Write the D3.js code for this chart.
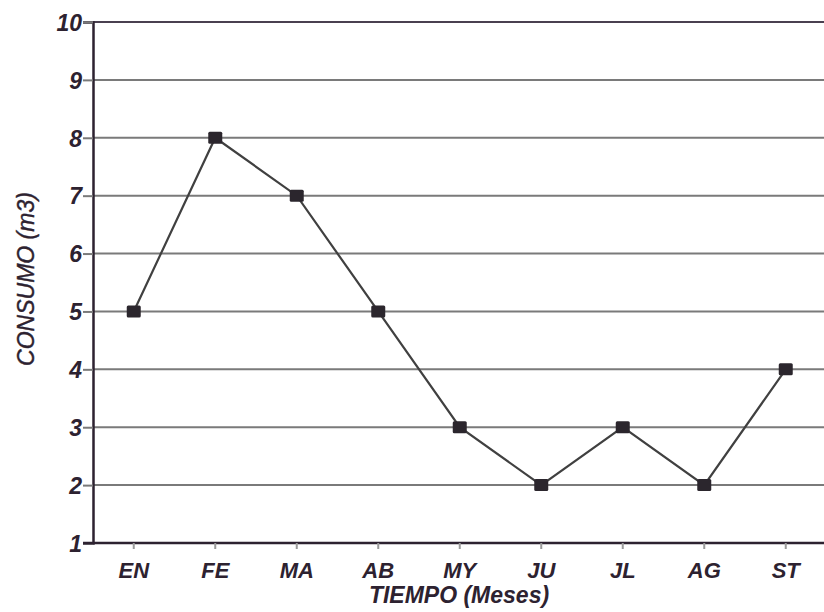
<!DOCTYPE html>
<html>
<head>
<meta charset="utf-8">
<script src="https://cdn.jsdelivr.net/npm/d3@7"></script>
<style>
  html, body { margin: 0; padding: 0; background: #fff; }
  svg { display: block; }
</style>
</head>
<body>
<svg id="chart" width="824" height="612"></svg>
<script>
// consumo mensual (m3)
const months = ["EN", "FE", "MA", "AB", "MY", "JU", "JL", "AG", "ST"];
const consumo = [5, 8, 7, 5, 3, 2, 3, 2, 4];
const yTicks = [1, 2, 3, 4, 5, 6, 7, 8, 9, 10];

const W = 824, H = 612;
const mLeft = 93, mTop = 22, mBottom = 543;
const INK = "#2d2230";
const GRID = "#7a7a7a";

const svg = d3.select("#chart");

const x = d3.scaleBand()
    .domain(months)
    .range([mLeft, mLeft + 81.5 * months.length]);

const y = d3.scaleLinear()
    .domain([1, 10])
    .range([mBottom, mTop]);

// horizontal grid lines
svg.append("g")
    .selectAll("line")
    .data(yTicks.filter(t => t > 1))
    .join("line")
    .attr("x1", mLeft).attr("x2", W)
    .attr("y1", d => y(d)).attr("y2", d => y(d))
    .attr("stroke", d => d === 10 ? "#4a4050" : GRID)
    .attr("stroke-width", 2);

// y axis
const yAxis = svg.append("g")
    .attr("transform", `translate(${mLeft},0)`)
    .call(d3.axisLeft(y).tickValues(yTicks).tickSize(10).tickPadding(1).tickFormat(d3.format("d")));
yAxis.select(".domain").attr("stroke", INK).attr("stroke-width", 2.5);
yAxis.selectAll(".tick line").attr("stroke", GRID).attr("stroke-width", 2);
yAxis.selectAll(".tick text")
    .attr("fill", INK)
    .attr("font-family", "Liberation Sans, Arial, sans-serif")
    .attr("font-weight", "bold")
    .attr("font-style", "italic")
    .attr("font-size", 23)
    .attr("dy", "0.36em");

// x axis
const xAxis = svg.append("g")
    .attr("transform", `translate(0,${mBottom})`)
    .call(d3.axisBottom(x).tickSize(6).tickPadding(8).tickSizeOuter(0));
xAxis.select(".domain").attr("stroke", INK).attr("stroke-width", 2.5)
    .attr("d", `M${mLeft - 10},0H${W}`);
xAxis.selectAll(".tick line").attr("stroke", "#9a9a9a").attr("stroke-width", 2);
xAxis.selectAll(".tick text")
    .attr("fill", INK)
    .attr("font-family", "Liberation Sans, Arial, sans-serif")
    .attr("font-weight", "bold")
    .attr("font-style", "italic")
    .attr("font-size", 22)
    .attr("dy", "0.95em");

// series line
const cx = d => x(d) + x.bandwidth() / 2;
const data = months.map((m, i) => ({ m, v: consumo[i] }));

svg.append("path")
    .datum(data)
    .attr("fill", "none")
    .attr("stroke", "#404040")
    .attr("stroke-width", 2.2)
    .attr("d", d3.line().x(d => cx(d.m)).y(d => y(d.v)));

svg.append("g")
    .selectAll("rect")
    .data(data)
    .join("rect")
    .attr("x", d => cx(d.m) - 7)
    .attr("y", d => y(d.v) - 6)
    .attr("width", 14)
    .attr("height", 12)
    .attr("rx", 1.5)
    .attr("fill", "#2b262d");

// axis titles
svg.append("text")
    .attr("transform", `translate(34,279) rotate(-90)`)
    .attr("text-anchor", "middle")
    .attr("fill", INK)
    .attr("font-family", "Liberation Sans, Arial, sans-serif")
    .attr("font-style", "italic")
    .attr("font-size", 23)
    .attr("stroke", INK)
    .attr("stroke-width", 0.4)
    .text("CONSUMO (m3)");

svg.append("text")
    .attr("x", 459)
    .attr("y", 603)
    .attr("text-anchor", "middle")
    .attr("fill", INK)
    .attr("font-family", "Liberation Sans, Arial, sans-serif")
    .attr("font-weight", "bold")
    .attr("font-style", "italic")
    .attr("font-size", 23)
    .text("TIEMPO (Meses)");
</script>
</body>
</html>
